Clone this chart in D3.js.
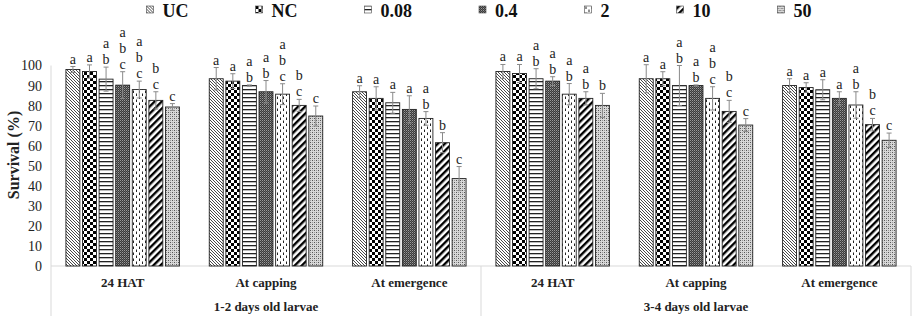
<!DOCTYPE html>
<html>
<head>
<meta charset="utf-8">
<script src="https://cdn.jsdelivr.net/npm/d3@7"></script>
<style>
  body { margin: 0; background: #fff; }
  svg { display: block; }
  text { font-family: "Liberation Serif", "Times New Roman", "DejaVu Serif", serif; }
</style>
</head>
<body>
<div id="chart"></div>
<script>
// survival of larvae per stage, 7 treatments in each group
const series = ["UC", "NC", "0.08", "0.4", "2", "10", "50"];
const stages = ["24 HAT", "At capping", "At emergence", "24 HAT", "At capping", "At emergence"];
const ages = ["1-2 days old larvae", "3-4 days old larvae"];
const yTicks = [0, 10, 20, 30, 40, 50, 60, 70, 80, 90, 100];

// mean survival (%) per stage, in series order
const means = [
    [98, 97, 93.2, 90.2, 88, 82.6, 79.3],
    [93.4, 92.2, 90, 86.9, 85.7, 80.1, 74.8],
    [86.9, 83.6, 81.4, 78.1, 73.6, 61.5, 43.6],
    [97, 96, 93.4, 92.2, 85.7, 83.6, 80.1],
    [93.4, 93.4, 90, 90, 83.6, 77.1, 70.3],
    [90, 89, 87.9, 83.6, 80.3, 70.5, 62.7]
];

// error bar half-lengths
const errors = [
    [1.5, 3.3, 6, 6.7, 4.2, 4.3, 1.7],
    [5.6, 3.7, 0.3, 5.6, 5.2, 3, 5],
    [3, 5.8, 5.2, 6.8, 3.4, 5, 6],
    [3.5, 4.5, 5, 2.2, 5.3, 3.3, 6],
    [7, 3.5, 10, 0.3, 5.8, 5.5, 3.2],
    [3.4, 2.4, 5, 3.3, 6.6, 3.1, 3.6]
];

// significance letters
const letters = [
    ["a", "a", "ab", "abc", "abc", "bc", "c"],
    ["a", "a", "ab", "ab", "abc", "bc", "c"],
    ["a", "a", "a", "a", "ab", "b", "c"],
    ["a", "a", "ab", "ab", "ab", "ab", "b"],
    ["a", "a", "ab", "ab", "abc", "bc", "c"],
    ["a", "a", "a", "a", "ab", "bc", "c"]
];

const FONT = "Liberation Serif, Times New Roman, DejaVu Serif, serif";
const width = 913, height = 320;
const plot = { left: 51, right: 911, top: 65.5, bottom: 266 };

const svg = d3.select("#chart").append("svg")
    .attr("width", width)
    .attr("height", height)
    .attr("font-family", FONT);

// ---- fill patterns ----
const defs = svg.append("defs");

function pat(id, w, h) {
    return defs.append("pattern")
        .attr("id", id)
        .attr("patternUnits", "userSpaceOnUse")
        .attr("width", w)
        .attr("height", h);
}

// UC: fine back-diagonal lines
let p = pat("p0", 3, 3);
p.append("rect").attr("width", 3).attr("height", 3).attr("fill", "#fff");
p.append("path").attr("d", "M0,0L3,3M-1,2L1,4M2,-1L4,1")
    .attr("stroke", "#333").attr("stroke-width", 0.9);

// NC: checkerboard
p = pat("p1", 6, 6);
p.append("rect").attr("width", 6).attr("height", 6).attr("fill", "#fff");
p.append("rect").attr("width", 3).attr("height", 3).attr("fill", "#000");
p.append("rect").attr("x", 3).attr("y", 3).attr("width", 3).attr("height", 3).attr("fill", "#000");

// 0.08: horizontal lines
p = pat("p2", 4, 4);
p.append("rect").attr("width", 4).attr("height", 4).attr("fill", "#fff");
p.append("rect").attr("y", 1).attr("width", 4).attr("height", 1.3).attr("fill", "#222");

// 0.4: dark fine grid
p = pat("p3", 2, 2);
p.append("rect").attr("width", 2).attr("height", 2).attr("fill", "#3a3a3a");
p.append("rect").attr("width", 1).attr("height", 1).attr("fill", "#9a9a9a");
p.append("rect").attr("x", 1).attr("y", 1).attr("width", 1).attr("height", 1).attr("fill", "#666");

// 2: sparse vertical dashes
p = pat("p4", 6, 6);
p.append("rect").attr("width", 6).attr("height", 6).attr("fill", "#fff");
p.append("rect").attr("x", 1).attr("y", 0.5).attr("width", 1).attr("height", 2.5).attr("fill", "#222");
p.append("rect").attr("x", 4).attr("y", 3.5).attr("width", 1).attr("height", 2.5).attr("fill", "#222");

// 10: wide forward diagonal stripes
p = pat("p5", 5, 5).attr("patternTransform", "rotate(45)");
p.append("rect").attr("width", 5).attr("height", 5).attr("fill", "#fff");
p.append("rect").attr("width", 2.4).attr("height", 5).attr("fill", "#000");

// 50: light grey texture
p = pat("p6", 4, 4);
p.append("rect").attr("width", 4).attr("height", 4).attr("fill", "#d8d8d8");
p.append("rect").attr("width", 1).attr("height", 1).attr("fill", "#555");
p.append("rect").attr("x", 2).attr("y", 2).attr("width", 1).attr("height", 1).attr("fill", "#555");
p.append("rect").attr("x", 2).attr("y", 0).attr("width", 1).attr("height", 1).attr("fill", "#999");
p.append("rect").attr("x", 0).attr("y", 2).attr("width", 1).attr("height", 1).attr("fill", "#999");

const fillOf = i => `url(#p${i})`;

// ---- scales ----
const x0 = d3.scaleBand()
    .domain(d3.range(stages.length))
    .range([plot.left, plot.right]);

const x1 = d3.scaleBand()
    .domain(series)
    .range([0, x0.bandwidth()])
    .paddingInner(0.16)
    .paddingOuter(0.9);

const y = d3.scaleLinear()
    .domain([0, 100])
    .range([plot.bottom, plot.top]);

// ---- axes ----
svg.append("line")
    .attr("x1", plot.left).attr("x2", plot.left)
    .attr("y1", plot.top).attr("y2", plot.bottom)
    .attr("stroke", "#d9d9d9");

const yAxis = svg.append("g")
    .attr("transform", `translate(${plot.left},0)`)
    .call(d3.axisLeft(y).tickValues(yTicks).tickSize(0).tickPadding(9))
    .attr("font-family", FONT)
    .attr("font-size", 14);
yAxis.select(".domain").remove();
yAxis.selectAll("text")
    .attr("fill", "#222");

svg.append("text")
    .attr("transform", "translate(19,155) rotate(-90)")
    .attr("text-anchor", "middle")
    .attr("font-size", 16)
    .attr("font-weight", "bold")
    .attr("fill", "#222")
    .text("Survival (%)");

// x axis line and group separators
svg.append("line")
    .attr("x1", plot.left).attr("x2", plot.right)
    .attr("y1", plot.bottom).attr("y2", plot.bottom)
    .attr("stroke", "#d9d9d9");

const half = stages.length / ages.length;
const sepX = d3.range(ages.length + 1).map(k =>
    k < ages.length ? x0(k * half) : x0(stages.length - 1) + x0.bandwidth());
svg.selectAll("line.sep")
    .data(sepX)
    .enter().append("line")
    .attr("class", "sep")
    .attr("x1", d => d).attr("x2", d => d)
    .attr("y1", plot.bottom).attr("y2", 316)
    .attr("stroke", "#d9d9d9");

svg.selectAll("text.stage")
    .data(stages)
    .enter().append("text")
    .attr("class", "stage")
    .attr("x", (d, i) => x0(i) + x0.bandwidth() / 2)
    .attr("y", 287)
    .attr("text-anchor", "middle")
    .attr("font-size", 13)
    .attr("font-weight", "bold")
    .attr("fill", "#222")
    .text(d => d);

svg.selectAll("text.age")
    .data(ages)
    .enter().append("text")
    .attr("class", "age")
    .attr("x", (d, k) => (sepX[k] + sepX[k + 1]) / 2)
    .attr("y", 311)
    .attr("text-anchor", "middle")
    .attr("font-size", 13)
    .attr("font-weight", "bold")
    .attr("fill", "#222")
    .text(d => d);

// ---- bars ----
const cells = [];
stages.forEach((s, i) => {
    series.forEach((name, j) => {
        cells.push({ i, j, name, v: means[i][j], e: errors[i][j], lab: letters[i][j] });
    });
});

const bars = svg.append("g");
bars.selectAll("rect")
    .data(cells)
    .enter().append("rect")
    .attr("x", d => x0(d.i) + x1(d.name))
    .attr("y", d => y(d.v))
    .attr("width", x1.bandwidth())
    .attr("height", d => y(0) - y(d.v))
    .attr("fill", d => fillOf(d.j))
    .attr("stroke", "#222")
    .attr("stroke-width", 0.9);

// error bars
const eb = svg.append("g")
    .attr("stroke", "#8a8a8a")
    .attr("stroke-width", 1);
cells.forEach(d => {
    const cx = x0(d.i) + x1(d.name) + x1.bandwidth() / 2;
    const top = y(d.v + d.e), bot = y(d.v - d.e);
    eb.append("line").attr("x1", cx).attr("x2", cx).attr("y1", top).attr("y2", bot);
    eb.append("line").attr("x1", cx - 2.5).attr("x2", cx + 2.5).attr("y1", top).attr("y2", top);
    eb.append("line").attr("x1", cx - 2.5).attr("x2", cx + 2.5).attr("y1", bot).attr("y2", bot);
});

// significance letters, stacked
const lineGap = 16;
cells.forEach(d => {
    const cx = x0(d.i) + x1(d.name) + x1.bandwidth() / 2;
    const base = y(d.v + d.e) - 3;
    const chars = d.lab.split("");
    chars.forEach((c, k) => {
        svg.append("text")
            .attr("x", cx)
            .attr("y", base - (chars.length - 1 - k) * lineGap)
            .attr("text-anchor", "middle")
            .attr("font-size", 14)
            .attr("fill", "#222")
            .text(c);
    });
});

// ---- legend ----
const legend = svg.append("g");
const items = legend.selectAll("g")
    .data(series)
    .enter().append("g");
items.append("rect")
    .attr("y", 6)
    .attr("width", 7)
    .attr("height", 7)
    .attr("fill", (d, i) => fillOf(i))
    .attr("stroke", "#444")
    .attr("stroke-width", 0.6);
items.append("text")
    .attr("x", 16)
    .attr("y", 17)
    .attr("font-size", 18)
    .attr("font-weight", "bold")
    .attr("fill", "#111")
    .text(d => d);

let lx = 0;
const pos = [];
items.each(function() {
    pos.push(lx);
    const w = 16 + this.querySelector("text").getComputedTextLength();
    lx += w + 67;
});
const total = lx - 67;
const startX = (plot.left + plot.right) / 2 - 2 - total / 2;
items.attr("transform", (d, i) => `translate(${startX + pos[i]},0)`);
</script>
</body>
</html>
